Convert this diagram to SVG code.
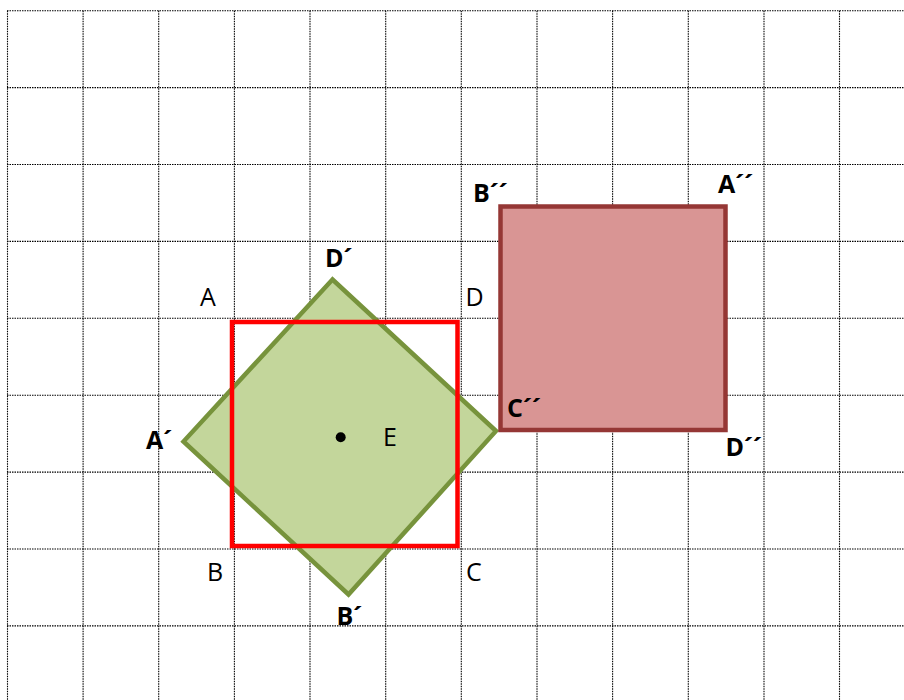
<svg xmlns="http://www.w3.org/2000/svg" width="904" height="700" viewBox="0 0 904 700">
<style>
.grid line{stroke:#000;stroke-width:1.1;stroke-dasharray:1.5 1}
.lbl{font-family:"Open Sans","Liberation Sans",sans-serif;font-size:25px;fill:#000}
.b{font-weight:bold}
</style>
<rect width="904" height="700" fill="#fff"/>
<g class="grid">
<line x1="7.5" y1="10.7" x2="7.5" y2="700"/>
<line x1="83.1" y1="10.7" x2="83.1" y2="700"/>
<line x1="158.7" y1="10.7" x2="158.7" y2="700"/>
<line x1="234.4" y1="10.7" x2="234.4" y2="700"/>
<line x1="310" y1="10.7" x2="310" y2="700"/>
<line x1="385.7" y1="10.7" x2="385.7" y2="700"/>
<line x1="461.3" y1="10.7" x2="461.3" y2="700"/>
<line x1="537" y1="10.7" x2="537" y2="700"/>
<line x1="612.6" y1="10.7" x2="612.6" y2="700"/>
<line x1="688.3" y1="10.7" x2="688.3" y2="700"/>
<line x1="764" y1="10.7" x2="764" y2="700"/>
<line x1="839.5" y1="10.7" x2="839.5" y2="700"/>
<line x1="7" y1="10.7" x2="904" y2="10.7"/>
<line x1="7" y1="87.6" x2="904" y2="87.6"/>
<line x1="7" y1="164.5" x2="904" y2="164.5"/>
<line x1="7" y1="241.4" x2="904" y2="241.4"/>
<line x1="7" y1="318.3" x2="904" y2="318.3"/>
<line x1="7" y1="395.2" x2="904" y2="395.2"/>
<line x1="7" y1="472.1" x2="904" y2="472.1"/>
<line x1="7" y1="549" x2="904" y2="549"/>
<line x1="7" y1="625.9" x2="904" y2="625.9"/>
</g>
<g id="green-square">
<polygon points="332.5,279.5 183.5,441.5 348.5,594.5 496,431" fill="#C3D69B" stroke="#77933C" stroke-width="4.5"/>
</g>
<g id="red-square">
<rect x="232" y="322" width="225.5" height="224" fill="none" stroke="#FF0000" stroke-width="4.5"/>
</g>
<g id="brown-square">
<rect x="500.5" y="206.5" width="225" height="223.5" fill="#D99594" stroke="#953735" stroke-width="4.5"/>
</g>
<g id="center-E">
<circle cx="340.7" cy="437.3" r="5" fill="#000"/>
<text class="lbl" x="383" y="446">E</text>
</g>
<g id="labels">
<text class="lbl" x="200" y="306">A</text>
<text class="lbl" x="465.5" y="306">D</text>
<text class="lbl" x="207" y="581">B</text>
<text class="lbl" x="466" y="581">C</text>
<text class="lbl b" x="325" y="267">D´</text>
<text class="lbl b" x="146" y="449">A´</text>
<text class="lbl b" x="336.5" y="625">B´</text>
<text class="lbl b" x="473" y="202">B´´</text>
<text class="lbl b" x="718" y="193">A´´</text>
<text class="lbl b" x="507" y="417">C´´</text>
<text class="lbl b" x="725.5" y="456">D´´</text>
</g>
</svg>
